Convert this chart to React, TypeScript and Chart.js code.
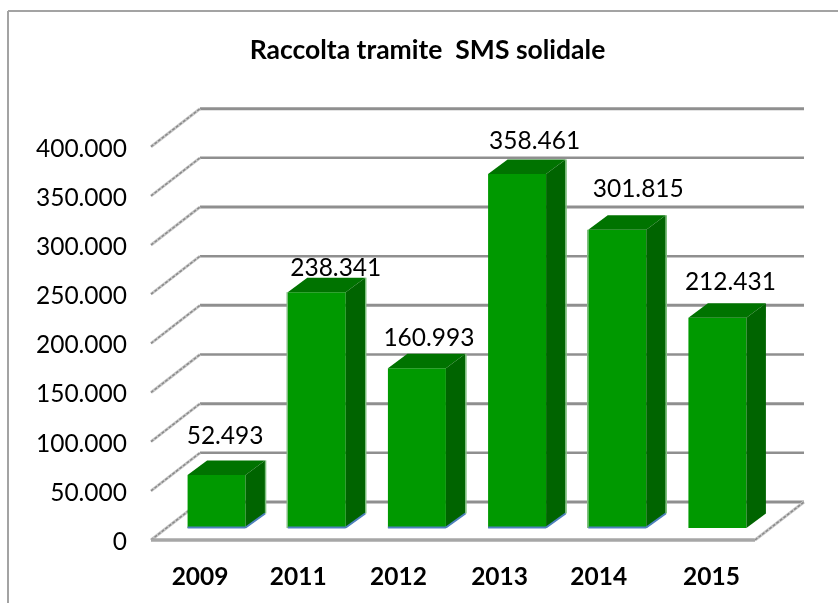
import React, { useEffect, useRef } from "react";
import { Chart, registerables } from "chart.js";

Chart.register(...registerables);

const years = ["2009", "2011", "2012", "2013", "2014", "2015"];
const raccolta = [52493, 238341, 160993, 358461, 301815, 212431];
const chartTitle = "Raccolta tramite  SMS solidale";
const labelNudgeX = [8.5, 19, 12, 17.5, 21, 13];
const labelNudgeY = [-38.5, -24.5, -30.5, -32.5, -40.5, -36];
const yearNudgeX = [-1, -3, -3, -2, -3, 9.5];

const WALL_DX = 49;
const WALL_DY = -38;
const FLOOR_EXTRA = 3;
const BAR_DX = 15.5;
const BAR_DY = -13.5;
const BAR_DEPTH_X = 19.5;
const BAR_DEPTH_Y = -14.5;
const FACE = "#009900";
const TOP = "#007300";
const SIDE = "#006400";
const EDGE = "#7fbf7f";
const BLUE = "#4f81bd";
const GRID = "#8f8f8f";
const FLOOR = "#a6a6a6";

const fmt = (v: number) => String(v).replace(/\B(?=(\d{3})+(?!\d))/g, ".");

const poly = (ctx: CanvasRenderingContext2D, pts: number[][], fill: string) => {
  ctx.beginPath();
  pts.forEach(([x, y], i) => (i ? ctx.lineTo(x, y) : ctx.moveTo(x, y)));
  ctx.closePath();
  ctx.fillStyle = fill;
  ctx.fill();
};

const line = (ctx: CanvasRenderingContext2D, x0: number, y0: number, x1: number, y1: number, color: string, w: number, dash: number[] = []) => {
  ctx.save();
  ctx.beginPath();
  ctx.setLineDash(dash);
  ctx.moveTo(x0, y0);
  ctx.lineTo(x1, y1);
  ctx.strokeStyle = color;
  ctx.lineWidth = w;
  ctx.stroke();
  ctx.restore();
};

const wall = (ctx: CanvasRenderingContext2D, x: number, y: number) => {
  line(ctx, x, y, x + WALL_DX, y + WALL_DY, "#c9c9c9", 3);
  line(ctx, x, y, x + WALL_DX, y + WALL_DY, "#8a8a8a", 1.5, [3, 1.5]);
};

const frame3d = {
  id: "frame3d",
  afterLayout(chart: any) {
    chart.titleBlock.left = 100;
    chart.titleBlock.right = 755;
    const items = chart.scales.x.getLabelItems();
    items.forEach((it: any, i: number) => {
      it.options.translation = [it.options.translation[0] + yearNudgeX[i], it.options.translation[1]];
    });
  },
  beforeDraw(chart: any) {
    const { ctx } = chart;
    line(ctx, 8, 11, 838, 11, "#a3a3a3", 2);
    line(ctx, 8, 11, 8, 603, "#a3a3a3", 2);
  },
  beforeDatasetsDraw(chart: any) {
    const { ctx, chartArea: a, scales: { y } } = chart;
    const right = a.right + FLOOR_EXTRA;
    y.ticks.forEach((t: any, i: number) => {
      const py = y.getPixelForValue(t.value);
      line(ctx, a.left + WALL_DX, py + WALL_DY, right + WALL_DX, py + WALL_DY, GRID, i % 2 ? 2.5 : 3);
      wall(ctx, a.left, py);
    });
    line(ctx, a.left, a.bottom, right, a.bottom, FLOOR, 3.5);
    wall(ctx, right, a.bottom);
    ctx.save();
    ctx.translate(BAR_DX, BAR_DY);
  },
  afterDatasetsDraw(chart: any) {
    const { ctx } = chart;
    const bars = chart.getDatasetMeta(0).data;
    bars.forEach((b: any, i: number) => {
      const l = b.x - b.width / 2;
      const r = b.x + b.width / 2;
      const t = b.y;
      const f = b.base;
      const dx = BAR_DEPTH_X;
      const dy = BAR_DEPTH_Y;
      poly(ctx, [[l, t], [r, t], [r + dx, t + dy], [l + dx, t + dy]], TOP);
      poly(ctx, [[r, t], [r + dx, t + dy], [r + dx, f + dy], [r, f]], SIDE);
      if (i < 5) {
        line(ctx, r + dx + 0.5, t + dy, r + dx + 0.5, f + dy, EDGE, 1.5);
        line(ctx, l, f - 0.5, r, f - 0.5, BLUE, 2);
        line(ctx, r, f - 0.5, r + dx, f + dy, BLUE, 2);
      }
      if (i === 1 || i === 4) line(ctx, l - 0.5, t, l - 0.5, f, EDGE, 1.5);
    });
    ctx.restore();
    ctx.save();
    ctx.font = "24.5px Lato";
    ctx.fillStyle = "#000";
    ctx.textAlign = "center";
    ctx.textBaseline = "middle";
    bars.forEach((b: any, i: number) => {
      ctx.fillText(fmt(raccolta[i]), b.x + BAR_DX + labelNudgeX[i], b.y + BAR_DY + labelNudgeY[i]);
    });
    ctx.restore();
  },
};

export default function App() {
  const ref = useRef<HTMLCanvasElement>(null);
  useEffect(() => {
    const chart = new Chart(ref.current!, {
      type: "bar",
      data: {
        labels: years,
        datasets: [{ data: raccolta, base: -1525, backgroundColor: FACE, borderWidth: 0, categoryPercentage: 1, barPercentage: 0.579, clip: false } as any],
      },
      options: {
        animation: false,
        responsive: false,
        devicePixelRatio: 1,
        layout: { padding: { left: 0, right: 86, top: 0, bottom: 0 } },
        plugins: {
          legend: { display: false },
          tooltip: { enabled: false },
          title: {
            display: true,
            text: chartTitle,
            color: "#000",
            font: { family: "Lato", size: 26.5, weight: "bold" },
            padding: { top: 35, bottom: 79.9 },
          },
        },
        scales: {
          x: {
            grid: { display: false },
            border: { display: false },
            afterFit: (s: any) => { s.height = 63; },
            ticks: { color: "#000", font: { family: "Lato", size: 24.5, weight: "bold" }, padding: 14, maxRotation: 0 },
          },
          y: {
            min: 0,
            max: 400000,
            grid: { display: false },
            border: { display: false },
            afterFit: (s: any) => { s.width = 151; },
            ticks: { stepSize: 50000, color: "#000", font: { family: "Lato", size: 24.5 }, padding: 16, labelOffset: 2, callback: (v: any) => fmt(Number(v)) },
          },
        },
      },
      plugins: [frame3d],
    } as any);
    return () => chart.destroy();
  }, []);
  return (
    <div style={{ position: "absolute", left: 0, top: 0, width: 838, height: 603, background: "#fff" }}>
      <canvas ref={ref} width={838} height={603} style={{ display: "block" }} />
    </div>
  );
}
